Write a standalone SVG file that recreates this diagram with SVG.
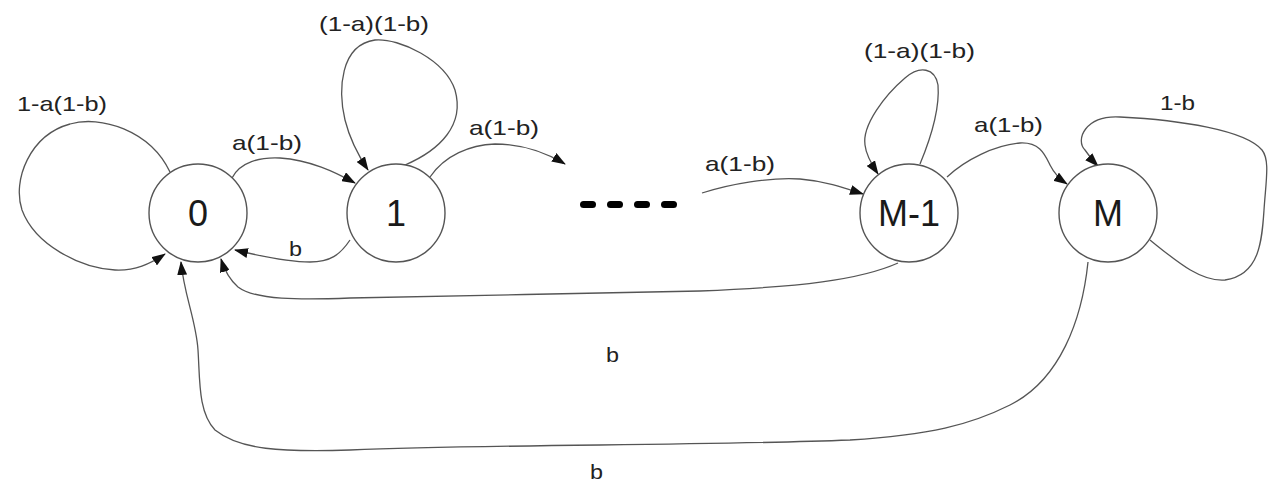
<svg xmlns="http://www.w3.org/2000/svg" width="1268" height="486" viewBox="0 0 1268 486">
<defs>
<style>
.node{fill:#fff;stroke:#555;stroke-width:1.4}
.nl{font-family:"Liberation Sans",Arial,sans-serif;font-size:36px;fill:#1a1a1a;text-anchor:middle}
.el{font-family:"Liberation Sans",Arial,sans-serif;font-size:21px;fill:#222}
.e{fill:none;stroke:#555;stroke-width:1.3;marker-end:url(#ah)}
</style>
<marker id="ah" viewBox="0 0 14 10" refX="13" refY="5" markerWidth="14" markerHeight="10" markerUnits="userSpaceOnUse" orient="auto"><path d="M0,0 L14,5 L0,10 z" fill="#111"/></marker>
</defs>
<rect width="1268" height="486" fill="#fff"/>
<g id="connectors">
<path class="e" d="M170,172 C150,130 100,115 70,124 C30,135 12,180 22,210 C35,245 80,268 115,270 C135,271 150,264 165,254"/>
<path class="e" d="M232,178 C240,162 260,157 280,158 C310,160 335,172 355,183"/>
<path class="e" d="M350,240 C340,255 330,262 310,262 C290,262 260,256 235,250"/>
<path class="e" d="M405,165 C440,150 465,125 455,90 C445,60 400,38 375,40 C340,45 338,90 345,120 C350,140 360,158 368,170"/>
<path class="e" d="M430,177 C445,155 470,145 495,144 C525,144 550,155 565,164"/>
<path class="e" d="M702,193 C730,184 770,177 800,179 C825,181 845,188 863,194"/>
<path class="e" d="M920,164 C930,140 940,110 938,85 C935,68 920,65 905,78 C885,95 862,125 865,145 C866,155 872,165 878,174"/>
<path class="e" d="M947,177 C965,160 995,145 1020,143 C1040,142 1045,155 1050,165 C1054,173 1058,178 1067,184"/>
<path class="e" d="M1150,240 C1175,260 1200,282 1225,280 C1260,275 1262,240 1264,210 C1266,180 1270,160 1262,150 C1245,130 1180,120 1120,117 C1085,115 1075,140 1085,150 C1090,157 1094,162 1098,166"/>
<path class="e" d="M898,263 C860,280 800,287 700,291 C600,294 450,295 350,298 C300,300 255,300 238,287 C230,280 225,272 221,259"/>
<path class="e" d="M1088,262 C1082,320 1060,380 1010,405 C970,425 930,435 850,440 C700,446 500,444 350,450 C280,452 240,450 215,430 C198,412 200,380 198,350 C196,320 184,295 181,262"/>
</g>
<g id="dots">
<rect x="580" y="201" width="16" height="7" rx="3.5" fill="#000"/>
<rect x="607" y="201" width="16" height="7" rx="3.5" fill="#000"/>
<rect x="634" y="201" width="16" height="7" rx="3.5" fill="#000"/>
<rect x="661" y="201" width="16" height="7" rx="3.5" fill="#000"/>
</g>
<g id="node-0"><circle class="node" cx="198" cy="213" r="49"/><text class="nl" x="198" y="226">0</text></g>
<g id="node-1"><circle class="node" cx="396" cy="213" r="49"/><text class="nl" x="396" y="226">1</text></g>
<g id="node-M-1"><circle class="node" cx="909" cy="213" r="49"/><text class="nl" x="909" y="226">M-1</text></g>
<g id="node-M"><circle class="node" cx="1108" cy="213" r="49"/><text class="nl" x="1108" y="226">M</text></g>
<g id="labels">
<text class="el" x="17" y="111" textLength="90" lengthAdjust="spacingAndGlyphs">1-a(1-b)</text>
<text class="el" x="232" y="150" textLength="70" lengthAdjust="spacingAndGlyphs">a(1-b)</text>
<text class="el" x="319" y="31" textLength="110" lengthAdjust="spacingAndGlyphs">(1-a)(1-b)</text>
<text class="el" x="469" y="135" textLength="70" lengthAdjust="spacingAndGlyphs">a(1-b)</text>
<text class="el" x="705" y="171" textLength="70" lengthAdjust="spacingAndGlyphs">a(1-b)</text>
<text class="el" x="864" y="58" textLength="111" lengthAdjust="spacingAndGlyphs">(1-a)(1-b)</text>
<text class="el" x="974" y="132" textLength="69" lengthAdjust="spacingAndGlyphs">a(1-b)</text>
<text class="el" x="1160" y="110" textLength="35" lengthAdjust="spacingAndGlyphs">1-b</text>
<text class="el" x="289" y="256" textLength="13" lengthAdjust="spacingAndGlyphs">b</text>
<text class="el" x="606" y="362" textLength="13" lengthAdjust="spacingAndGlyphs">b</text>
<text class="el" x="590" y="479" textLength="13" lengthAdjust="spacingAndGlyphs">b</text>
</g>
</svg>
